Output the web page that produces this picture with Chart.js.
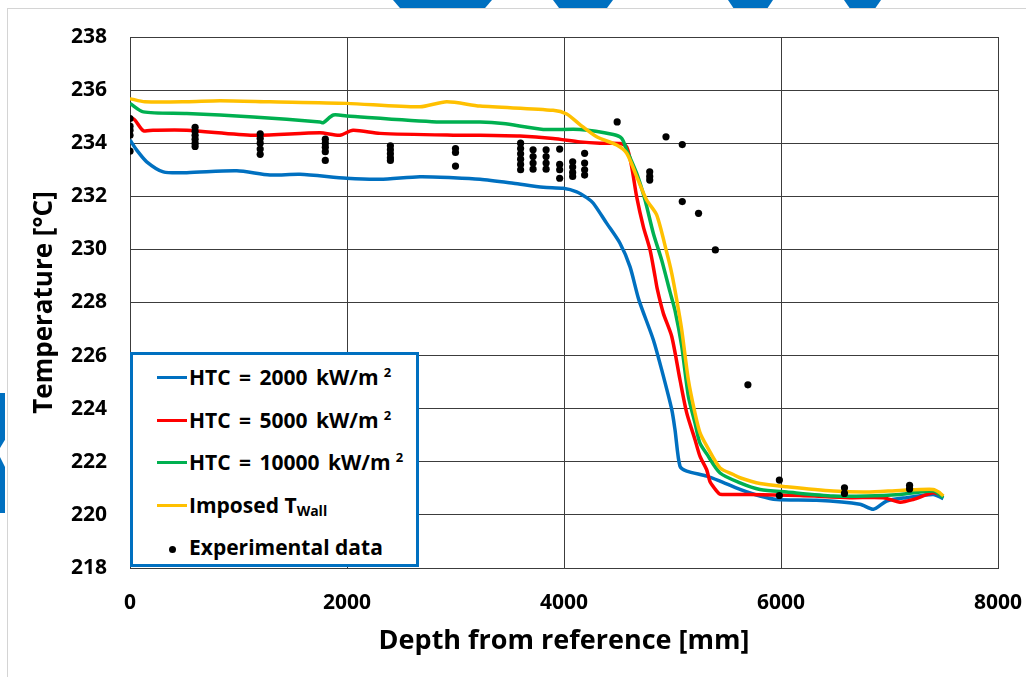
<!DOCTYPE html>
<html>
<head>
<meta charset="utf-8">
<script src="https://cdn.jsdelivr.net/npm/chart.js@4.4.1/dist/chart.umd.min.js"></script>
<style>
  html, body { margin: 0; padding: 0; background: #fff; }
  #wrap { position: relative; width: 1026px; height: 677px; overflow: hidden; font-family: "Open Sans", sans-serif; }
  #card { position: absolute; left: 7px; top: 8px; right: -2px; bottom: -2px; border-left: 1px solid #d4d4d4; border-top: 1px solid #d4d4d4; }
  .deco { position: absolute; background: #0070c0; }
  #chartBox { position: absolute; left: 0; top: 0; width: 1026px; height: 677px; }
  #legend { position: absolute; left: 130px; top: 352px; width: 283px; height: 209px; border: 3px solid #0070c0; background: #fff; }
  #legend .row { position: absolute; left: 24px; height: 30px; display: flex; align-items: center; font-weight: 700; font-size: 21px; color: #000; white-space: pre; }
  #legend .row.htc { word-spacing: 3px; }
  #legend .sw { display: inline-block; width: 30px; height: 3px; margin-right: 2px; }
  #legend .dot { display: inline-block; width: 30px; text-align: center; margin-right: 2px; }
  #legend .dot span { display: inline-block; width: 7px; height: 7px; border-radius: 50%; background: #000; vertical-align: middle; }
  #legend sup { font-size: 13px; position: relative; top: -5px; margin-left: 5px; }
  #legend sub { font-size: 14px; position: relative; top: 5px; vertical-align: baseline; }
</style>
</head>
<body>
<div id="wrap">
  <div id="card"></div>
  <!-- slide decorations -->
  <div class="deco" style="left:393px;top:0;width:99px;height:8px;clip-path:polygon(0 0,100% 0,93% 100%,7% 100%)"></div>
  <div class="deco" style="left:553px;top:0;width:60px;height:8px;clip-path:polygon(0 0,100% 0,90% 100%,10% 100%)"></div>
  <div class="deco" style="left:728px;top:0;width:45px;height:8px;clip-path:polygon(0 0,100% 0,88% 100%,12% 100%)"></div>
  <div class="deco" style="left:844px;top:0;width:37px;height:8px;clip-path:polygon(0 0,100% 0,85% 100%,15% 100%)"></div>
  <div class="deco" style="left:0;top:393px;width:5px;height:55px;clip-path:polygon(0 0,100% 0,100% 85%,0 100%)"></div>
  <div class="deco" style="left:0;top:457px;width:5px;height:56px;clip-path:polygon(0 0,100% 18%,100% 100%,0 100%)"></div>

  <div id="chartBox"><canvas id="chart"></canvas></div>

  <div id="legend">
    <div class="row htc" style="top:7px"><span class="sw" style="background:#0070c0"></span>HTC = 2000 kW/m<sup>2</sup></div>
    <div class="row htc" style="top:50px"><span class="sw" style="background:#ff0000"></span>HTC = 5000 kW/m<sup>2</sup></div>
    <div class="row htc" style="top:92px"><span class="sw" style="background:#00b050"></span>HTC = 10000 kW/m<sup>2</sup></div>
    <div class="row" style="top:135px"><span class="sw" style="background:#ffc000"></span>Imposed T<sub>Wall</sub></div>
    <div class="row" style="top:177px"><span class="dot"><span></span></span>Experimental data</div>
  </div>
</div>

<script>
/* Temperature vs depth — 3 HTC cases + imposed wall temperature + experimental points */

// HTC = 2000 kW/m2
const blueX = [0, 62, 154, 307, 523, 984, 1290, 1567, 1997, 2304, 2673, 2980, 3226, 3533, 3809, 3993, 4117, 4209, 4270, 4394, 4516, 4608, 4690, 4823, 4900, 4993, 5023, 5069, 5131, 5315, 5438, 5622, 5806, 5960, 6329, 6728, 6851, 6974, 7158, 7404, 7496];
const blueY = [234.12, 233.74, 233.3, 232.92, 232.89, 232.96, 232.8, 232.83, 232.68, 232.64, 232.74, 232.7, 232.64, 232.49, 232.34, 232.3, 232.17, 231.95, 231.74, 230.98, 230.23, 229.35, 228.1, 226.6, 225.47, 223.97, 223.21, 221.83, 221.65, 221.46, 221.27, 220.96, 220.71, 220.58, 220.55, 220.4, 220.21, 220.52, 220.65, 220.77, 220.61];

// HTC = 5000 kW/m2
const redX = [0, 46, 123, 212, 523, 1137, 1751, 1935, 2055, 2304, 2980, 3226, 3594, 3899, 4147, 4332, 4516, 4578, 4624, 4670, 4731, 4793, 4839, 4860, 4915, 4993, 5069, 5131, 5207, 5253, 5315, 5346, 5407, 5438, 5714, 6175, 6636, 6943, 7097, 7219, 7404, 7496];
const redY = [234.99, 234.87, 234.47, 234.49, 234.49, 234.3, 234.39, 234.3, 234.49, 234.37, 234.3, 234.3, 234.27, 234.18, 234.05, 234.0, 233.99, 233.86, 233.11, 231.98, 230.86, 229.98, 228.98, 228.5, 227.6, 226.72, 225.09, 223.84, 222.84, 222.21, 221.7, 221.25, 220.9, 220.78, 220.77, 220.73, 220.65, 220.65, 220.48, 220.58, 220.83, 220.71];

// HTC = 10000 kW/m2
const greenX = [0, 123, 523, 1137, 1751, 1781, 1874, 1997, 2826, 3226, 3438, 3809, 4147, 4455, 4532, 4578, 4670, 4747, 4823, 4900, 4977, 5023, 5085, 5146, 5207, 5253, 5315, 5438, 5622, 5806, 6053, 6482, 6790, 7097, 7404, 7496];
const greenY = [235.5, 235.18, 235.12, 234.99, 234.8, 234.77, 235.06, 235.02, 234.8, 234.8, 234.74, 234.52, 234.52, 234.33, 234.18, 233.74, 232.86, 231.86, 230.61, 229.6, 228.4, 227.7, 226.35, 224.47, 223.47, 222.7, 222.3, 221.58, 221.21, 220.96, 220.86, 220.71, 220.71, 220.77, 220.9, 220.65];

// Imposed T_Wall
const yellowX = [0, 138, 523, 829, 1290, 1997, 2673, 2919, 3226, 3899, 4025, 4147, 4301, 4486, 4578, 4670, 4762, 4854, 4946, 4993, 5039, 5085, 5146, 5207, 5253, 5315, 5438, 5560, 5622, 5806, 6053, 6482, 6790, 7097, 7404, 7465, 7496];
const yellowY = [235.68, 235.56, 235.56, 235.6, 235.56, 235.5, 235.37, 235.56, 235.4, 235.24, 235.1, 234.7, 234.24, 233.93, 233.62, 232.74, 231.86, 231.3, 229.9, 229.1, 228.1, 226.97, 225.09, 223.84, 223.1, 222.6, 221.77, 221.52, 221.4, 221.18, 221.06, 220.9, 220.86, 220.92, 220.96, 220.83, 220.71];

// Experimental data
const expX = [0, 0, 0, 0, 0,
  600, 600, 600, 600, 600, 600,
  1200, 1200, 1200, 1200, 1200,
  1800, 1800, 1800, 1800, 1800,
  2400, 2400, 2400, 2400, 2400,
  3000, 3000, 3000,
  3600, 3600, 3600, 3600, 3600, 3600,
  3715, 3715, 3715, 3715,
  3835, 3835, 3835, 3835,
  3960, 3960, 3960, 3960,
  4080, 4080, 4080, 4080,
  4190, 4190, 4190, 4190,
  4490, 4790, 4790, 4790, 4940, 5090, 5090, 5240, 5395, 5695, 5985, 5985, 6585, 6585, 7185, 7185];
const expY = [234.93, 234.64, 234.49, 234.3, 233.7,
  234.6, 234.45, 234.3, 234.15, 234.0, 233.88,
  234.35, 234.18, 234.0, 233.78, 233.58,
  234.15, 234.0, 233.85, 233.68, 233.35,
  233.9, 233.75, 233.6, 233.45, 233.35,
  233.8, 233.65, 233.14,
  234.0, 233.8, 233.6, 233.4, 233.2, 233.0,
  233.75, 233.5, 233.25, 233.02,
  233.75, 233.5, 233.25, 233.02,
  233.78, 233.2, 233.0, 232.68,
  233.3, 233.1, 232.9, 232.75,
  233.62, 233.25, 233.0, 232.8,
  234.8, 232.92, 232.75, 232.61, 234.24, 233.95, 231.8, 231.36, 229.98, 224.9, 221.31, 220.73, 221.02, 220.81, 221.11, 220.98];

const xTicks = [0, 2000, 4000, 6000, 8000];
const yMin = 218, yMax = 238, yStep = 2;

const pts = (xs, ys) => xs.map((x, i) => ({ x, y: ys[i] }));
const line = (label, xs, ys, color, order) => ({
  label, data: pts(xs, ys), showLine: true, borderColor: color, backgroundColor: color,
  borderWidth: 3.5, pointRadius: 0, tension: 0.25, order,
});

const gridCol = "#3c3c3c";
const tickFont = { family: "'Open Sans', sans-serif", size: 21, weight: "700" };

new Chart(document.getElementById("chart"), {
  type: "scatter",
  data: {
    datasets: [
      { label: "Experimental data", data: pts(expX, expY), pointRadius: 3.6, pointHoverRadius: 3.6,
        backgroundColor: "#000", borderColor: "#000", borderWidth: 0, order: 0 },
      line("Imposed T_Wall", yellowX, yellowY, "#ffc000", 1),
      line("HTC = 10000 kW/m2", greenX, greenY, "#00b050", 2),
      line("HTC = 5000 kW/m2", redX, redY, "#ff0000", 3),
      line("HTC = 2000 kW/m2", blueX, blueY, "#0070c0", 4),
    ],
  },
  options: {
    responsive: true, maintainAspectRatio: false, animation: false,
    layout: { padding: { top: 37, right: 28, left: 0, bottom: 0 } },
    plugins: { legend: { display: false }, tooltip: { enabled: false } },
    scales: {
      x: {
        type: "linear", min: xTicks[0], max: xTicks[xTicks.length - 1],
        afterBuildTicks: (s) => { s.ticks = xTicks.map(v => ({ value: v })); },
        // fixed plot box: drop the label-overflow padding, layout padding handles it
        afterFit: (s) => { s.height = 109; s.paddingLeft = 0; s.paddingRight = 0; },
        grid: { color: gridCol, lineWidth: 1, drawTicks: false },
        border: { color: gridCol, width: 1 },
        ticks: { color: "#000", font: tickFont, padding: 22, maxRotation: 0, callback: (v) => String(v) },
        title: { display: true, text: "Depth from reference [mm]", color: "#000",
          font: { family: "'Open Sans', sans-serif", size: 27, weight: "700" }, padding: { top: 0, bottom: 19 } },
      },
      y: {
        min: yMin, max: yMax,
        ticks: { stepSize: yStep, color: "#000", font: tickFont, padding: 23, callback: (v) => String(v) },
        afterFit: (s) => { s.width = 130; s.paddingTop = 0; s.paddingBottom = 0; },
        grid: { color: gridCol, lineWidth: 1, drawTicks: false },
        border: { color: gridCol, width: 1 },
        title: { display: true, text: "Temperature [°C]", color: "#000",
          font: { family: "'Open Sans', sans-serif", size: 26, weight: "700" }, padding: { top: 29, bottom: 0 } },
      },
    },
  },
});
</script>
</body>
</html>
